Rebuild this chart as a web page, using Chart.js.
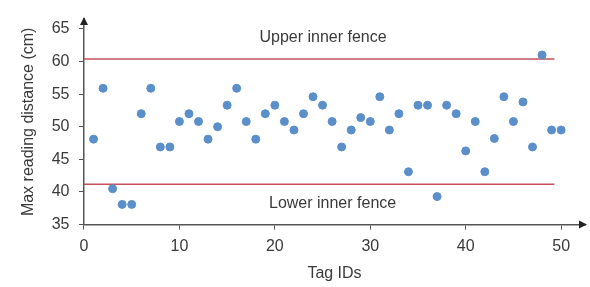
<!DOCTYPE html>
<html>
<head>
<meta charset="utf-8">
<script src="https://cdn.jsdelivr.net/npm/chart.js@4/dist/chart.umd.min.js"></script>
<style>
  html, body { margin: 0; padding: 0; background: #fff; }
  #wrap { width: 590px; height: 287px; }
</style>
</head>
<body>
<div id="wrap"><canvas id="chart" width="590" height="287"></canvas></div>
<script>
// datos
const tagIds = [];
for (let i = 1; i <= 50; i++) tagIds.push(i);
const distances = [
  48.1, 55.9, 40.5, 38.1, 38.1, 52.0, 55.9, 46.9, 46.9, 50.8,
  52.0, 50.8, 48.1, 50.0, 53.3, 55.9, 50.8, 48.1, 52.0, 53.3,
  50.8, 49.5, 52.0, 54.6, 53.3, 50.8, 46.9, 49.5, 51.4, 50.8,
  54.6, 49.5, 52.0, 43.1, 53.3, 53.3, 39.3, 53.3, 52.0, 46.3,
  50.8, 43.1, 48.2, 54.6, 50.8, 53.8, 46.9, 61.0, 49.5, 49.5
];
const upperFence = 60.4;
const lowerFence = 41.2;
const fenceRange = [0, 49.3];
const xTicks = [0, 10, 20, 30, 40, 50];
const yTicks = [35, 40, 45, 50, 55, 60, 65];
const fenceLabels = [
  { text: 'Upper inner fence', x: 25.05, y: 63.6 },
  { text: 'Lower inner fence', x: 26.05, y: 38.2 }
];

const axisColor = '#555555';
const textColor = '#3a3a3a';
const fontFamily = 'Arial, "Liberation Sans", sans-serif';
const fontSize = 16;

const points = tagIds.map((id, i) => ({ x: id, y: distances[i] }));

// etiquetas y flechas de los ejes
const extrasPlugin = {
  id: 'extras',
  afterDraw(chart) {
    const ctx = chart.ctx;
    const xs = chart.scales.x;
    const ys = chart.scales.y;
    const area = chart.chartArea;
    ctx.save();
    ctx.fillStyle = textColor;
    ctx.font = fontSize + 'px ' + fontFamily;
    ctx.textAlign = 'center';
    ctx.textBaseline = 'middle';
    fenceLabels.forEach(l => {
      ctx.fillText(l.text, xs.getPixelForValue(l.x), ys.getPixelForValue(l.y));
    });
    // flechas
    ctx.fillStyle = '#222';
    const bx = area.left, by = area.bottom;
    ctx.beginPath();
    ctx.moveTo(area.right + 2, by);
    ctx.lineTo(area.right - 6, by - 4);
    ctx.lineTo(area.right - 6, by + 4);
    ctx.closePath();
    ctx.fill();
    ctx.beginPath();
    ctx.moveTo(bx, area.top - 2);
    ctx.lineTo(bx - 4, area.top + 6);
    ctx.lineTo(bx + 4, area.top + 6);
    ctx.closePath();
    ctx.fill();
    ctx.restore();
  }
};

new Chart(document.getElementById('chart'), {
  type: 'scatter',
  data: {
    datasets: [
      {
        label: 'Distance',
        data: points,
        backgroundColor: '#5b8fc9',
        borderColor: '#5b8fc9',
        pointRadius: 4,
        pointHoverRadius: 4,
        order: 1
      },
      {
        label: 'Upper',
        data: fenceRange.map(x => ({ x: x, y: upperFence })),
        showLine: true,
        borderColor: '#c5505c',
        borderWidth: 1.5,
        pointRadius: 0,
        order: 2
      },
      {
        label: 'Lower',
        data: fenceRange.map(x => ({ x: x, y: lowerFence })),
        showLine: true,
        borderColor: '#c5505c',
        borderWidth: 1.5,
        pointRadius: 0,
        order: 2
      }
    ]
  },
  options: {
    responsive: false,
    animation: false,
    layout: { padding: { left: 15, right: 4, top: 7, bottom: 0 } },
    plugins: {
      legend: { display: false },
      tooltip: { enabled: false }
    },
    scales: {
      x: {
        type: 'linear',
        min: 0,
        max: 52.5,
        afterBuildTicks: s => { s.ticks = xTicks.map(v => ({ value: v })); },
        grid: { display: true, drawOnChartArea: false, drawTicks: true, tickLength: 5, color: axisColor },
        border: { color: axisColor, width: 1.5 },
        ticks: { color: textColor, font: { size: fontSize, family: fontFamily }, padding: 7 },
        title: { display: true, text: 'Tag IDs', color: textColor, font: { size: fontSize, family: fontFamily }, padding: { top: 1 } }
      },
      y: {
        type: 'linear',
        min: 35,
        max: 66.5,
        afterBuildTicks: s => { s.ticks = yTicks.map(v => ({ value: v })); },
        grid: { display: true, drawOnChartArea: false, drawTicks: true, tickLength: 5, color: axisColor },
        border: { color: axisColor, width: 1.5 },
        ticks: { color: textColor, font: { size: fontSize, family: fontFamily }, padding: 9.5 },
        title: { display: true, text: 'Max reading distance (cm)', color: textColor, font: { size: fontSize, family: fontFamily }, padding: { bottom: 4 } }
      }
    }
  },
  plugins: [extrasPlugin]
});
</script>
</body>
</html>
